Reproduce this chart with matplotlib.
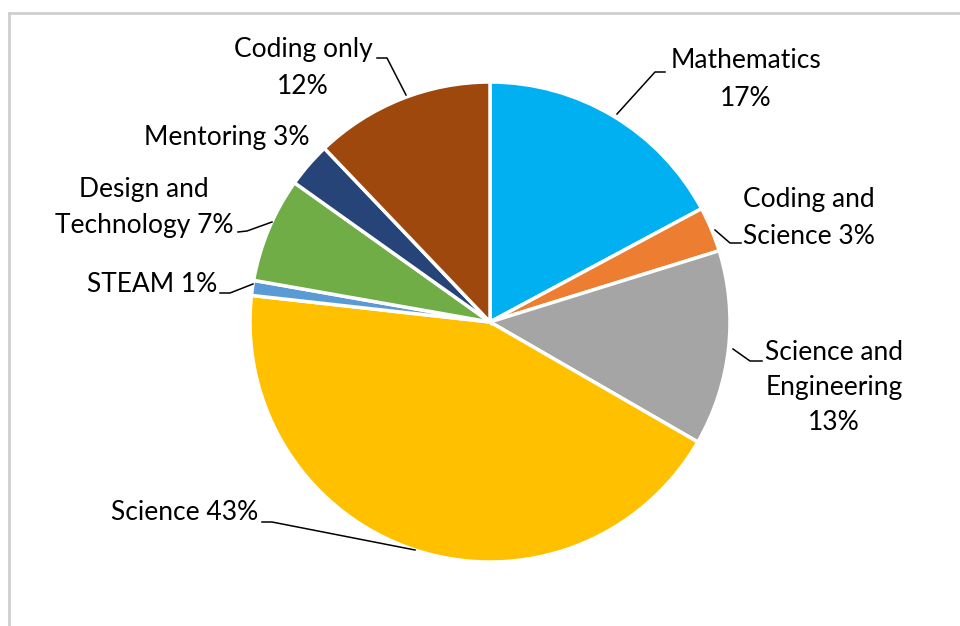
import matplotlib.pyplot as plt
from matplotlib.lines import Line2D

categories = ["Mathematics", "Coding and Science", "Science and Engineering",
              "Science", "STEAM", "Design and Technology", "Mentoring", "Coding only"]
shares = [17, 3, 13, 43, 1, 7, 3, 12]
colors = ["#00B0F0", "#ED7D31", "#A5A5A5", "#FFC000",
          "#5B9BD5", "#70AD47", "#264478", "#9E480E"]

# label text lines (name broken the way it is printed next to each wedge)
label_lines = [
    ["Mathematics", "{}%"],
    ["Coding and", "Science {}%"],
    ["Science and", "Engineering", "{}%"],
    ["Science {}%"],
    ["STEAM {}%"],
    ["Design and", "Technology {}%"],
    ["Mentoring {}%"],
    ["Coding only", "{}%"],
]

W, H = 960, 626
plt.rcParams['font.family'] = ['Lato', 'DejaVu Sans']

fig = plt.figure(figsize=(W / 100, H / 100), dpi=100)


def fx(x):
    return x / W


def fy(y):
    return 1 - y / H


# light frame around the chart area
fig.add_artist(Line2D([fx(9), fx(W + 5)], [fy(12.5), fy(12.5)], color="#CFCFCF", lw=2))
fig.add_artist(Line2D([fx(9), fx(9)], [fy(12.5), fy(H + 5)], color="#CFCFCF", lw=2))

cx, cy, r = 490, 322, 240
ax = fig.add_axes([fx(cx - r), fy(cy + r), 2 * r / W, 2 * r / H])
ax.pie(shares, colors=colors, startangle=90, counterclock=False, radius=1,
       wedgeprops=dict(edgecolor="white", linewidth=2.5))
ax.set_xlim(-1, 1)
ax.set_ylim(-1, 1)
ax.set_aspect("equal")
ax.axis("off")

# label placement: (center x, first line y, line step)
label_pos = [
    (746, 61, 38),
    (809, 200, 37),
    (834, 352, 35.5),
    (185, 512, 0),
    (152, 284, 0),
    (144, 189, 37),
    (227, 137, 0),
    (303, 50, 37),
]

# leader lines from label to wedge
leaders = [
    [(665, 72), (655, 72), (617, 114)],
    [(741, 243), (730, 243), (715, 230)],
    [(762, 361), (750, 361), (733, 349)],
    [(262, 522), (272, 522), (415, 550)],
    [(220, 293), (230, 293), (253, 284)],
    [(238, 232), (247, 231), (272, 222)],
    None,
    [(377, 58), (387, 58), (406, 95)],
]

for lines, share, (x, y0, step), pts in zip(label_lines, shares, label_pos, leaders):
    for i, line in enumerate(lines):
        fig.text(fx(x), fy(y0 + i * step), line.format(share), ha="center", va="center",
                 fontsize=19, color="black")
    if pts:
        xs = [fx(p[0]) for p in pts]
        ys = [fy(p[1]) for p in pts]
        fig.add_artist(Line2D(xs, ys, color="black", lw=1.1))

fig.savefig("out.png", dpi=100)
